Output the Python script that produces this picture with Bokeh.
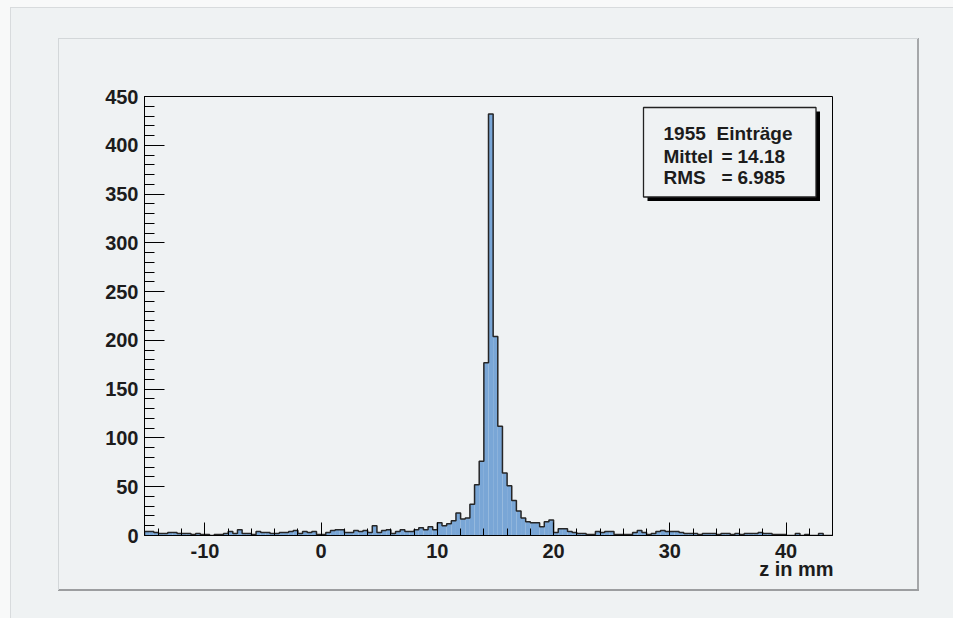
import numpy as np
from bokeh.plotting import figure
from bokeh.models import Range1d, SingleIntervalTicker, BoxAnnotation, Label
from bokeh.embed import file_html
from bokeh.resources import INLINE

# ---------------- data ----------------
x_min = -15.2
x_max = 44.0
bin_width = 0.4

# counts per 0.4 mm bin, from -15.2 to 44.0 (148 bins)
counts_neg_far = [4, 4, 3, 2, 2, 3, 3, 2, 2, 2, 1, 2, 1]                     # -15.2 .. -10.4
counts_neg_mid = [1, 0, 1, 1, 2, 4, 2, 6, 2, 2, 1, 4, 3, 3, 2, 2, 3, 3, 4, 5, 2]  # -10.0 .. -2.0
counts_neg_near = [4, 3, 4, 1]                                                   # -1.6 .. -0.4
counts_0_to_20 = [1, 3, 5, 6, 6, 3, 3, 5, 4, 5,
                  3, 10, 3, 5, 6, 2, 4, 6, 4, 4,
                  6, 8, 6, 9, 6, 13, 10, 12, 15, 23,
                  17, 18, 32, 52, 76, 177, 432, 204, 112, 64,
                  51, 36, 25, 18, 14, 13, 13, 9, 14, 16]
counts_20_to_44 = [3, 7, 7, 4, 3, 2, 2, 1, 1, 4,
                   3, 4, 4, 1, 1, 1, 1, 3, 5, 3,
                   1, 2, 4, 5, 4, 4, 4, 3, 2, 2,
                   2, 1, 2, 2, 2, 1, 2, 2, 1, 2,
                   1, 2, 2, 2, 3, 2, 2, 1, 1, 1,
                   0, 0, 2, 0, 1, 0, 0, 2, 0, 0]
counts = counts_neg_far + counts_neg_mid + counts_neg_near + counts_0_to_20 + counts_20_to_44

x_tick_labels = {-10: "-10", 0: "0", 10: "10", 20: "20", 30: "30", 40: "40"}
stat_entries = "1955"
stat_entries_label = "Einträge"
stat_names = ["Mittel", "RMS"]
stat_values = ["14.18", "6.985"]
x_axis_title = "z in mm"
x_tick_interval = 10
y_tick_interval = 50
y_max = 450

# ---------------- style ----------------
PAD = "#eff2f3"
OUTSIDE = "#f8f9f9"
BLUE = "#79a6d6"
FONT = "Liberation Sans"
INK = "#1c1c1c"

edges = x_min + bin_width * np.arange(len(counts) + 1)
left = edges[:-1]
right = edges[1:]

p = figure(width=953, height=618,
           x_range=Range1d(x_min, x_max), y_range=Range1d(0, y_max),
           output_backend="svg", toolbar_location=None,
           min_border_left=144, min_border_right=121,
           min_border_top=96, min_border_bottom=83)
p.background_fill_color = PAD
p.border_fill_alpha = 0
p.outline_line_color = "black"
p.outline_line_width = 1
p.xgrid.visible = False
p.ygrid.visible = False

# ROOT canvas / pad look (drawn as the page background behind the transparent border)
def bar(color, x, y, w, h):
    return f"linear-gradient({color},{color}) {x}px {y}px / {w}px {h}px no-repeat"

p.styles = {
    "background": ", ".join([
        bar("#d3d7d9", 58, 38, 860, 1),
        bar("#d3d7d9", 58, 38, 1, 552),
        bar("#9c9ea0", 58, 589, 861, 2),
        bar("#a5a7a9", 917, 38, 2, 553),
        bar("#d8dbdd", 10, 7, 943, 1),
        bar("#d8dbdd", 10, 7, 1, 611),
        bar(PAD, 10, 7, 943, 611),
        OUTSIDE,
    ])
}

# px <-> data helpers (frame: x 144..832, y 96..535)
def dx(px):
    return x_min + (px - 144) * (x_max - x_min) / 688.0

def dy(py):
    return (535.0 - py) * y_max / 439.0

# histogram
p.quad(left=left, right=right, bottom=0, top=counts,
       fill_color=BLUE, line_color=None)
xs = np.repeat(edges, 2)
ys = np.concatenate([[0], np.repeat(counts, 2), [0]])
p.line(xs, ys, line_color="#262626", line_width=1.5)

# axes
for ax in (p.xaxis[0], p.yaxis[0]):
    ax.axis_line_color = "black"
    ax.major_tick_line_color = "black"
    ax.minor_tick_line_color = "black"
    ax.major_tick_out = 0
    ax.minor_tick_out = 0
    ax.major_label_text_font = FONT
    ax.major_label_text_font_style = "bold"
    ax.major_label_text_font_size = "20px"
    ax.major_label_text_color = INK

xa = p.xaxis[0]
xa.ticker = SingleIntervalTicker(interval=x_tick_interval, num_minor_ticks=5)
xa.major_label_overrides = x_tick_labels
xa.major_tick_in = 13
xa.minor_tick_in = 7
xa.major_label_standoff = 8
# the label is centred on the axis end; trailing no-break spaces shift its visible
# text so that it ends at the right end of the axis, as in ROOT
xa.axis_label = x_axis_title + "\u00a0" * 13
xa.axis_label_text_font = FONT
xa.axis_label_text_font_style = "bold"
xa.axis_label_text_font_size = "20px"
xa.axis_label_text_color = INK
xa.axis_label_align = "end"
xa.axis_label_standoff = -3

ya = p.yaxis[0]
ya.ticker = SingleIntervalTicker(interval=y_tick_interval, num_minor_ticks=5)
ya.major_tick_in = 20
ya.minor_tick_in = 10
ya.major_label_standoff = 6

# statistics box with shadow
p.add_layout(BoxAnnotation(left=dx(647), right=dx(819.5), top=dy(111), bottom=dy(200.5),
                           fill_color="black", fill_alpha=1, line_color=None))
p.add_layout(BoxAnnotation(left=dx(643), right=dx(815.5), top=dy(107), bottom=dy(196.5),
                           fill_color=PAD, fill_alpha=1, line_color="#222222",
                           line_alpha=1, line_width=1.3))

def stat_text(x_px, y_px, txt):
    p.add_layout(Label(x=dx(x_px), y=dy(y_px), text=txt, text_font=FONT,
                       text_font_style="bold", text_font_size="19px",
                       text_color=INK, text_baseline="alphabetic", text_align="left"))

stat_text(663, 133, stat_entries)
stat_text(716, 133, stat_entries_label)
for i, (name, val) in enumerate(zip(stat_names, stat_values)):
    yb = 155.5 + i * 21.3
    stat_text(663, yb, name)
    stat_text(721, yb, "=")
    stat_text(737, yb, val)

open("out.html", "w").write(file_html(p, INLINE))
